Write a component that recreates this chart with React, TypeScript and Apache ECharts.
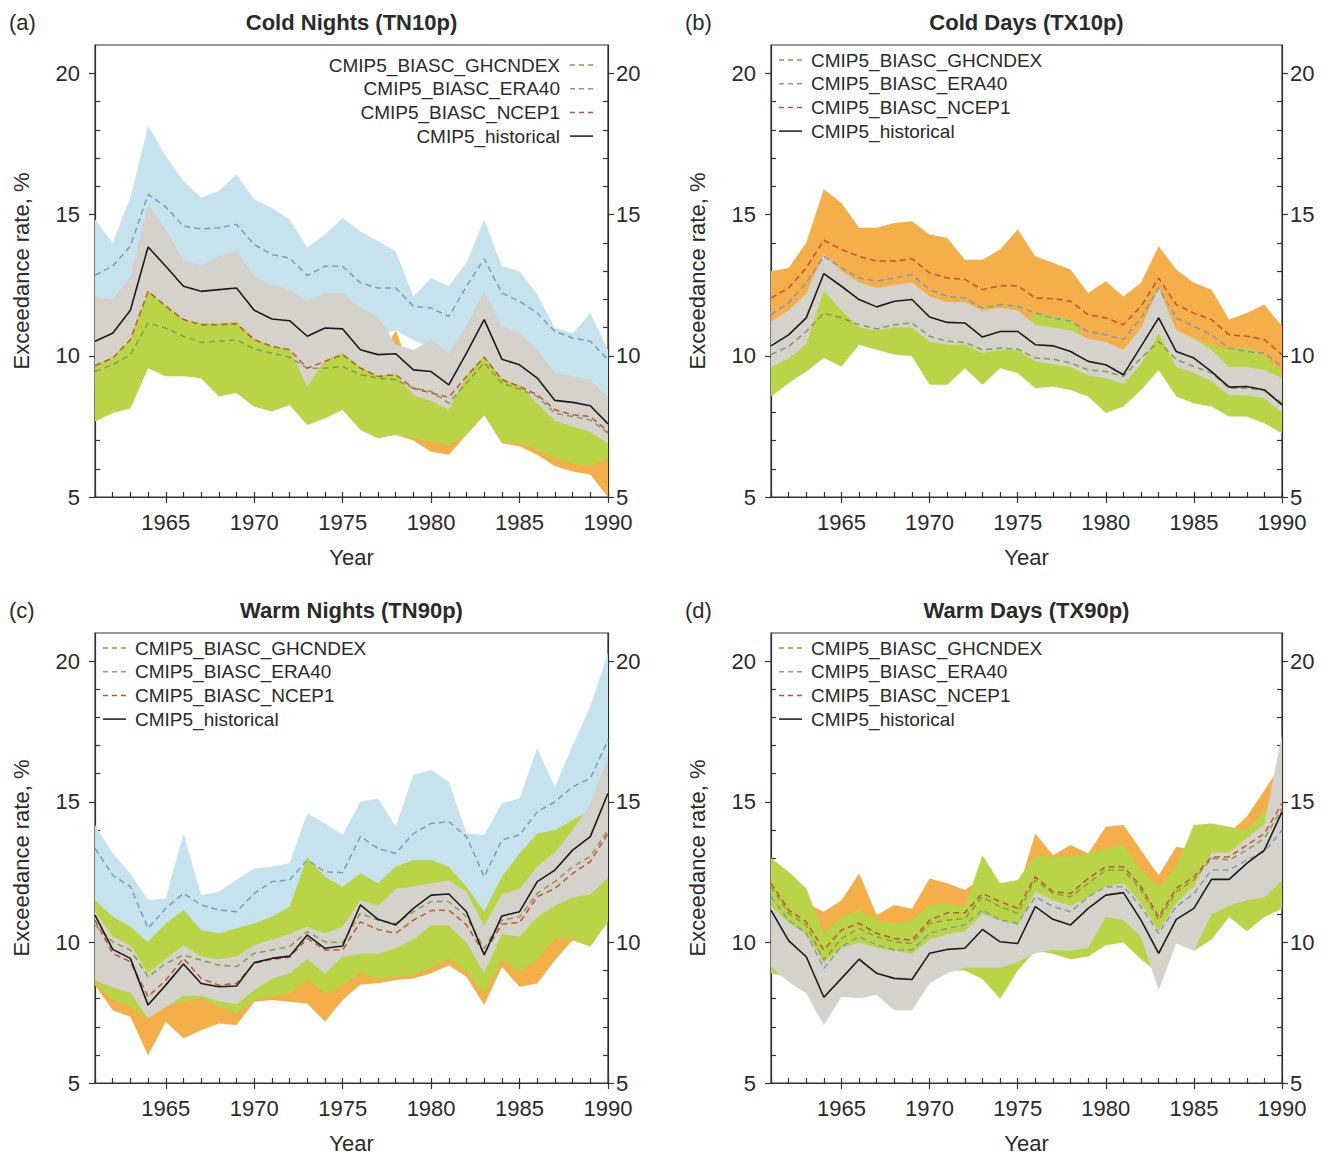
import React, { useEffect, useRef } from "react";
import * as echarts from "echarts";

const YEARS = [1961, 1962, 1963, 1964, 1965, 1966, 1967, 1968, 1969, 1970, 1971, 1972, 1973, 1974, 1975, 1976, 1977, 1978, 1979, 1980, 1981, 1982, 1983, 1984, 1985, 1986, 1987, 1988, 1989, 1990];
const X_MAJOR = [1965, 1970, 1975, 1980, 1985, 1990];
const Y_MAJOR = [5, 10, 15, 20];
const Y_MINOR = [6, 7, 8, 9, 11, 12, 13, 14, 16, 17, 18, 19];
const LEGEND_NAMES = ["CMIP5_BIASC_GHCNDEX", "CMIP5_BIASC_ERA40", "CMIP5_BIASC_NCEP1", "CMIP5_historical"];
const TITLES = ["Cold Nights (TN10p)", "Cold Days (TX10p)", "Warm Nights (TN90p)", "Warm Days (TX90p)"];
const LETTERS = ["(a)", "(b)", "(c)", "(d)"];

// ---- Panel (a) Cold Nights ----
const A_HIST = [10.51, 10.8, 11.61, 13.85, 13.17, 12.46, 12.28, 12.34, 12.4, 11.61, 11.3, 11.24, 10.69, 10.98, 10.95, 10.21, 10.04, 10.07, 9.5, 9.44, 8.97, 10.09, 11.28, 9.88, 9.68, 9.21, 8.42, 8.35, 8.23, 7.59];
const A_ERA40 = [12.85, 13.17, 13.88, 15.71, 15.27, 14.59, 14.49, 14.53, 14.65, 13.94, 13.58, 13.46, 12.84, 13.17, 13.17, 12.58, 12.4, 12.4, 11.75, 11.69, 11.39, 12.46, 13.43, 12.22, 11.93, 11.51, 10.86, 10.63, 10.51, 9.86];
const A_NCEP1 = [9.65, 9.92, 10.57, 12.28, 11.75, 11.28, 11.1, 11.1, 11.13, 10.57, 10.33, 10.21, 9.56, 9.8, 10.04, 9.56, 9.27, 9.33, 8.85, 8.68, 8.53, 9.27, 9.95, 9.15, 8.91, 8.62, 8.09, 7.91, 7.85, 7.32];
const A_GHCN = [9.44, 9.68, 10.04, 11.16, 10.98, 10.69, 10.47, 10.51, 10.57, 10.24, 10.09, 9.95, 9.56, 9.56, 9.62, 9.33, 9.21, 9.15, 8.85, 8.74, 8.32, 9.03, 9.76, 9.03, 8.82, 8.56, 7.97, 7.85, 7.73, 7.26];
const A_BLUE_HI = [14.82, 14.0, 15.6, 18.13, 17.07, 16.18, 15.59, 15.83, 16.42, 15.53, 15.24, 14.82, 13.82, 14.29, 14.88, 14.41, 14.05, 13.7, 12.1, 12.75, 12.46, 13.29, 14.82, 13.17, 12.99, 12.16, 10.98, 10.8, 11.51, 10.21];
const A_BLUE_LO = [11.0, 11.3, 12.0, 13.5, 13.2, 12.7, 12.5, 12.5, 12.6, 12.0, 11.7, 11.6, 11.0, 11.3, 11.3, 10.8, 10.7, 10.9, 10.55, 10.3, 9.6, 10.4, 11.4, 10.4, 10.2, 9.7, 9.1, 8.9, 8.7, 8.2];
const A_ORANGE_HI = [9.9, 10.1, 10.8, 12.45, 12.0, 11.5, 11.3, 11.4, 11.4, 10.8, 10.6, 10.5, 9.9, 10.1, 10.3, 9.9, 9.7, 10.9, 9.2, 9.0, 8.8, 9.5, 10.2, 9.5, 9.2, 8.9, 8.4, 8.2, 8.1, 7.5];
const A_ORANGE_LO = [7.8, 8.0, 8.2, 9.6, 9.3, 9.3, 9.2, 8.6, 8.7, 8.2, 8.05, 8.3, 7.6, 7.8, 8.1, 7.4, 7.1, 7.2, 7.0, 6.6, 6.5, 7.2, 7.9, 6.9, 6.8, 6.5, 6.1, 5.9, 5.8, 5.0];
const A_GREEN_HI = [10.0, 10.2, 10.9, 12.3, 12.0, 11.5, 11.3, 11.3, 11.3, 10.8, 10.6, 10.5, 9.8, 10.0, 10.2, 9.8, 9.5, 9.5, 9.0, 8.8, 8.6, 9.4, 10.0, 9.3, 9.1, 8.8, 8.3, 8.1, 8.0, 7.4];
const A_GREEN_LO = [7.67, 7.97, 8.14, 9.56, 9.27, 9.27, 9.21, 8.56, 8.68, 8.2, 8.03, 8.26, 7.55, 7.79, 8.09, 7.38, 7.08, 7.2, 7.08, 6.96, 6.84, 7.2, 7.91, 6.96, 6.9, 6.67, 6.37, 6.19, 6.1, 6.4];
const A_GRAY_HI = [12.1, 11.99, 12.81, 15.35, 14.47, 13.4, 13.17, 13.52, 13.7, 12.81, 12.52, 12.34, 11.93, 12.22, 12.22, 11.69, 11.39, 10.4, 10.2, 10.57, 10.09, 11.04, 12.28, 11.04, 10.8, 10.21, 9.39, 9.27, 9.15, 8.56];
const A_GRAY_LO = [9.7, 9.95, 10.6, 12.3, 11.8, 11.3, 11.15, 11.15, 11.2, 10.6, 10.35, 10.25, 8.9, 9.85, 10.1, 9.6, 9.3, 9.35, 8.6, 8.4, 8.1, 9.3, 10.0, 9.2, 8.95, 8.3, 7.7, 7.5, 7.3, 6.9];

// ---- Panel (b) Cold Days ----
const B_HIST = [10.35, 10.74, 11.34, 12.91, 12.46, 11.99, 11.73, 11.93, 11.99, 11.37, 11.18, 11.16, 10.66, 10.86, 10.86, 10.39, 10.35, 10.15, 9.8, 9.68, 9.33, 10.33, 11.34, 10.15, 9.92, 9.44, 8.89, 8.91, 8.79, 8.26];
const B_NCEP1 = [12.04, 12.4, 13.11, 14.09, 13.76, 13.52, 13.35, 13.35, 13.43, 12.93, 12.75, 12.7, 12.34, 12.48, 12.48, 12.04, 12.02, 11.93, 11.45, 11.34, 11.1, 11.75, 12.75, 11.81, 11.51, 11.28, 10.74, 10.69, 10.57, 10.04];
const B_ERA40 = [11.45, 11.87, 12.58, 13.52, 13.11, 12.75, 12.64, 12.75, 12.87, 12.34, 12.1, 12.04, 11.69, 11.81, 11.75, 11.51, 11.34, 11.22, 10.86, 10.74, 10.57, 11.34, 12.4, 11.34, 11.04, 10.74, 10.27, 10.15, 10.09, 9.62];
const B_GHCN = [10.04, 10.33, 10.86, 11.51, 11.34, 11.1, 10.95, 11.1, 11.16, 10.69, 10.51, 10.47, 10.21, 10.27, 10.24, 9.92, 9.88, 9.74, 9.5, 9.44, 9.27, 9.92, 10.51, 9.86, 9.62, 9.39, 8.85, 8.85, 8.79, 8.32];
const B_ORANGE_HI = [12.99, 13.11, 14.0, 15.89, 15.41, 14.53, 14.53, 14.7, 14.76, 14.29, 14.17, 13.4, 13.4, 13.76, 14.47, 13.52, 13.29, 13.05, 12.22, 12.64, 12.1, 12.58, 13.88, 13.05, 12.58, 12.34, 11.28, 11.51, 11.81, 11.04];
const B_ORANGE_LO = [11.1, 11.5, 12.1, 13.0, 12.7, 12.3, 12.2, 12.3, 12.3, 11.8, 11.6, 11.5, 11.2, 11.3, 11.2, 11.0, 10.9, 10.8, 10.5, 10.4, 10.2, 10.9, 11.9, 10.9, 10.6, 10.3, 9.8, 9.8, 9.7, 9.3];
const B_GREEN_HI = [10.9, 11.2, 11.6, 12.4, 12.0, 11.6, 11.5, 11.6, 11.6, 11.1, 11.0, 11.0, 10.8, 10.9, 10.9, 11.5, 11.4, 11.3, 10.5, 10.4, 10.0, 10.8, 11.6, 10.9, 10.6, 10.4, 10.2, 10.3, 10.0, 9.4];
const B_GREEN_LO = [8.56, 9.03, 9.44, 9.92, 9.62, 10.39, 10.21, 10.04, 9.98, 8.97, 8.97, 9.56, 8.97, 9.56, 9.39, 8.85, 8.91, 8.79, 8.56, 7.97, 8.2, 8.79, 9.5, 8.56, 8.32, 8.2, 7.85, 7.85, 7.61, 7.26];
const B_GRAY_HI = [11.2, 11.6, 12.2, 13.6, 13.0, 12.6, 12.4, 12.5, 12.6, 12.1, 11.9, 11.9, 11.6, 11.7, 11.6, 11.1, 11.0, 10.9, 10.6, 10.5, 10.2, 11.0, 12.4, 10.9, 10.6, 10.2, 9.6, 9.6, 9.5, 9.2];
const B_GRAY_LO = [9.6, 9.9, 10.4, 12.3, 11.6, 11.0, 10.9, 11.0, 11.0, 10.5, 10.4, 10.4, 10.1, 10.2, 10.2, 9.8, 9.7, 9.6, 9.3, 9.2, 9.0, 9.7, 10.8, 9.6, 9.4, 9.1, 8.6, 8.6, 8.5, 8.0];

// ---- Panel (c) Warm Nights ----
const C_HIST = [10.97, 9.75, 9.43, 7.77, 8.48, 9.23, 8.54, 8.42, 8.45, 9.28, 9.43, 9.51, 10.26, 9.79, 9.87, 11.33, 10.82, 10.62, 11.21, 11.68, 11.72, 11.09, 9.55, 10.94, 11.09, 12.16, 12.57, 13.28, 13.76, 15.3];
const C_ERA40 = [13.34, 12.39, 11.98, 10.5, 11.21, 11.74, 11.33, 11.15, 11.09, 11.74, 12.16, 12.22, 12.93, 12.51, 12.48, 13.76, 13.34, 13.16, 13.87, 14.23, 14.29, 13.76, 12.33, 13.64, 13.82, 14.64, 15.0, 15.53, 15.83, 17.19];
const C_GHCN = [10.62, 10.02, 9.73, 8.78, 9.25, 9.55, 9.37, 9.19, 9.14, 9.61, 9.73, 9.85, 10.38, 10.02, 9.99, 11.03, 10.79, 10.67, 11.09, 11.45, 11.45, 10.91, 9.79, 10.79, 10.91, 11.74, 12.16, 12.69, 13.05, 13.99];
const C_NCEP1 = [10.79, 9.61, 9.31, 8.07, 8.66, 9.43, 8.72, 8.48, 8.54, 9.25, 9.4, 9.47, 10.14, 9.73, 9.73, 10.73, 10.46, 10.32, 10.79, 11.13, 11.15, 10.62, 9.61, 10.65, 10.7, 11.62, 11.92, 12.45, 12.87, 13.87];
const C_BLUE_HI = [14.17, 13.16, 12.45, 11.5, 11.56, 13.87, 11.68, 11.8, 12.22, 12.63, 12.69, 12.81, 14.59, 14.23, 13.82, 15.0, 15.12, 14.11, 15.95, 16.13, 15.71, 13.87, 13.82, 14.94, 15.12, 16.9, 15.53, 17.0, 18.4, 20.3];
const C_BLUE_LO = [11.0, 10.5, 10.2, 9.3, 9.7, 10.0, 9.8, 9.7, 9.7, 10.1, 10.4, 10.5, 11.0, 10.8, 10.8, 11.6, 11.3, 11.2, 11.7, 12.0, 12.0, 11.6, 10.6, 11.6, 11.8, 12.5, 12.8, 13.3, 13.7, 15.0];
const C_ORANGE_HI = [11.2, 10.6, 10.3, 9.6, 10.2, 10.6, 10.1, 10.0, 10.1, 10.3, 10.5, 10.8, 11.5, 11.2, 11.2, 11.8, 11.7, 11.8, 12.0, 12.2, 12.2, 11.6, 10.5, 11.8, 12.0, 12.7, 13.1, 13.6, 14.0, 15.0];
const C_ORANGE_LO = [8.48, 7.59, 7.36, 5.99, 7.18, 6.59, 6.88, 7.12, 7.06, 7.89, 7.95, 7.89, 7.83, 7.18, 7.95, 8.5, 8.55, 8.66, 8.72, 8.9, 9.19, 8.78, 7.77, 9.13, 8.42, 8.54, 9.37, 10.08, 9.85, 10.73];
const C_GREEN_HI = [11.5, 10.91, 10.56, 10.02, 10.67, 11.15, 10.44, 10.32, 10.5, 10.67, 10.91, 11.27, 13.04, 12.33, 11.98, 12.45, 12.1, 12.69, 12.93, 12.93, 12.69, 11.98, 11.09, 12.33, 13.16, 13.87, 13.99, 14.35, 14.7, 15.18];
const C_GREEN_LO = [8.54, 7.95, 7.71, 7.3, 7.71, 7.89, 8.01, 7.71, 7.48, 7.95, 8.07, 8.19, 8.66, 8.19, 8.48, 8.9, 8.72, 8.78, 8.84, 9.08, 9.43, 8.96, 8.19, 9.37, 8.96, 9.37, 10.14, 10.14, 9.85, 10.79];
const C_GRAY_HI = [11.1, 10.2, 9.9, 8.9, 9.4, 9.9, 9.5, 9.4, 9.5, 9.9, 10.1, 10.3, 10.56, 10.32, 10.56, 11.5, 11.3, 11.9, 12.0, 12.1, 12.2, 11.8, 10.6, 11.7, 11.9, 12.7, 13.2, 14.0, 14.9, 16.6];
const C_GRAY_LO = [8.66, 8.4, 8.2, 7.3, 7.7, 8.1, 8.1, 7.9, 7.8, 8.3, 8.7, 8.9, 9.4, 8.9, 9.5, 9.6, 9.6, 9.8, 10.1, 10.6, 10.6, 10.0, 8.9, 10.3, 10.2, 10.9, 11.3, 11.6, 11.7, 12.3];

// ---- Panel (d) Warm Days ----
const D_HIST = [11.15, 10.06, 9.49, 8.05, 8.72, 9.4, 8.9, 8.72, 8.68, 9.61, 9.75, 9.79, 10.46, 10.02, 9.96, 11.27, 10.82, 10.62, 11.21, 11.68, 11.77, 10.79, 9.61, 10.82, 11.21, 12.24, 12.24, 12.81, 13.28, 14.64];
const D_NCEP1 = [12.1, 11.15, 10.73, 9.73, 10.44, 10.68, 10.32, 10.14, 10.08, 10.79, 11.05, 11.05, 11.74, 11.45, 11.21, 12.33, 11.8, 11.74, 12.27, 12.69, 12.69, 11.98, 10.91, 11.92, 12.33, 13.04, 13.04, 13.46, 13.87, 14.94];
const D_GHCN = [11.98, 11.03, 10.62, 9.37, 10.14, 10.5, 10.2, 10.02, 9.96, 10.68, 10.79, 10.85, 11.62, 11.27, 11.03, 12.22, 11.74, 11.62, 12.1, 12.57, 12.57, 11.86, 10.79, 11.8, 12.22, 12.99, 12.93, 13.28, 13.7, 14.76];
const D_ERA40 = [11.62, 10.79, 10.32, 9.08, 9.85, 10.2, 9.91, 9.73, 9.73, 10.32, 10.5, 10.62, 11.15, 10.79, 10.68, 11.62, 11.27, 11.09, 11.62, 11.98, 11.98, 11.27, 10.32, 11.27, 11.74, 12.57, 12.57, 12.93, 13.22, 13.99];
const D_ORANGE_HI = [12.6, 12.1, 11.4, 11.09, 11.5, 12.45, 10.97, 11.33, 11.2, 12.27, 12.1, 11.86, 12.3, 11.8, 11.8, 13.87, 13.1, 13.46, 13.16, 14.11, 14.17, 13.28, 12.39, 13.4, 13.3, 13.8, 13.9, 14.47, 15.41, 16.36];
const D_ORANGE_LO = [10.8, 10.0, 9.6, 8.5, 9.1, 9.5, 9.2, 9.0, 9.0, 9.6, 9.8, 9.9, 10.4, 10.0, 10.0, 10.9, 10.6, 10.4, 10.9, 11.3, 11.3, 10.6, 9.6, 10.6, 11.1, 11.9, 11.9, 12.3, 12.6, 13.4];
const D_GREEN_HI = [12.99, 12.51, 11.92, 10.32, 10.91, 11.15, 10.79, 10.67, 10.79, 11.33, 11.39, 11.27, 13.1, 12.1, 12.22, 13.1, 13.05, 13.05, 13.16, 13.34, 13.46, 12.57, 11.98, 12.69, 14.17, 14.23, 14.11, 13.99, 14.7, 15.53];
const D_GREEN_LO = [8.9, 8.8, 8.7, 8.0, 8.4, 8.8, 8.5, 8.4, 8.4, 8.9, 9.0, 9.0, 8.7, 8.0, 9.0, 9.7, 9.6, 9.4, 9.5, 9.9, 10.0, 9.4, 8.9, 10.2, 9.7, 10.1, 10.9, 10.4, 10.9, 11.2];
const D_GRAY_HI = [11.3, 10.7, 10.3, 9.3, 9.8, 10.0, 9.8, 9.7, 9.6, 10.1, 10.3, 10.4, 11.0, 10.8, 10.6, 11.8, 11.5, 11.3, 11.6, 12.0, 12.1, 11.4, 10.4, 11.4, 12.0, 13.2, 13.2, 13.7, 14.2, 17.4];
const D_GRAY_LO = [9.13, 8.6, 8.19, 7.06, 8.07, 8.01, 8.13, 7.59, 7.59, 8.54, 8.9, 9.1, 9.1, 9.1, 9.3, 9.61, 9.73, 9.7, 9.8, 10.9, 10.8, 10.2, 8.31, 9.96, 9.7, 11.0, 11.3, 11.5, 11.6, 12.2];

const FONT = '"Liberation Sans", Arial, Helvetica, sans-serif';
const AXIS_COLOR = "#333";
const TEXT_COLOR = "#2a2a2a";
const BLUE = "#c5e2ed";
const ORANGE = "#f4ae4a";
const GREEN = "#b9d547";
const GRAY = "#d4d2cb";
const LINE_COLORS = ["#8a9a4f", "#7f9bb2", "#bf5536", "#1a1a1a"];

type Band = { lo: number[]; hi: number[]; color: string };
type Panel = {
  left: number; top: number; width: number; height: number;
  legend: "right" | "left";
  bands: Band[];
  lines: number[][]; // GHCN, ERA40, NCEP1, HIST
};

const PANELS: Panel[] = [
  {
    left: 95, top: 45, width: 513, height: 452, legend: "right",
    bands: [
      { lo: A_BLUE_LO, hi: A_BLUE_HI, color: BLUE },
      { lo: A_ORANGE_LO, hi: A_ORANGE_HI, color: ORANGE },
      { lo: A_GREEN_LO, hi: A_GREEN_HI, color: GREEN },
      { lo: A_GRAY_LO, hi: A_GRAY_HI, color: GRAY },
    ],
    lines: [A_GHCN, A_ERA40, A_NCEP1, A_HIST],
  },
  {
    left: 771, top: 45, width: 511, height: 452, legend: "left",
    bands: [
      { lo: B_ORANGE_LO, hi: B_ORANGE_HI, color: ORANGE },
      { lo: B_GREEN_LO, hi: B_GREEN_HI, color: GREEN },
      { lo: B_GRAY_LO, hi: B_GRAY_HI, color: GRAY },
    ],
    lines: [B_GHCN, B_ERA40, B_NCEP1, B_HIST],
  },
  {
    left: 95, top: 633, width: 513, height: 450, legend: "left",
    bands: [
      { lo: C_BLUE_LO, hi: C_BLUE_HI, color: BLUE },
      { lo: C_ORANGE_LO, hi: C_ORANGE_HI, color: ORANGE },
      { lo: C_GREEN_LO, hi: C_GREEN_HI, color: GREEN },
      { lo: C_GRAY_LO, hi: C_GRAY_HI, color: GRAY },
    ],
    lines: [C_GHCN, C_ERA40, C_NCEP1, C_HIST],
  },
  {
    left: 771, top: 633, width: 511, height: 450, legend: "left",
    bands: [
      { lo: D_ORANGE_LO, hi: D_ORANGE_HI, color: ORANGE },
      { lo: D_GREEN_LO, hi: D_GREEN_HI, color: GREEN },
      { lo: D_GRAY_LO, hi: D_GRAY_HI, color: GRAY },
    ],
    lines: [D_GHCN, D_ERA40, D_NCEP1, D_HIST],
  },
];

const plain = (v: number) => String(v);

function buildOption() {
  const grid: any[] = [];
  const xAxis: any[] = [];
  const yAxis: any[] = [];
  const series: any[] = [];
  const graphic: any[] = [];
  const lineStyle = { color: AXIS_COLOR, width: 1.2 };

  PANELS.forEach((p, pi) => {
    grid.push({
      left: p.left, top: p.top, width: p.width, height: p.height,
      show: true, borderColor: AXIS_COLOR, borderWidth: 1.2, backgroundColor: "rgba(0,0,0,0)",
    });
    xAxis.push({
      type: "value", gridIndex: pi, position: "bottom", min: 1961, max: 1990,
      axisLine: { show: true, onZero: false, lineStyle },
      axisTick: { show: true, inside: true, length: 5, customValues: YEARS, lineStyle },
      axisLabel: { show: false }, splitLine: { show: false },
    });
    xAxis.push({
      type: "value", gridIndex: pi, position: "bottom", min: 1961, max: 1990,
      axisLine: { show: false, onZero: false },
      axisTick: { show: true, inside: false, length: 6, customValues: X_MAJOR, lineStyle },
      axisLabel: { show: true, customValues: X_MAJOR, formatter: plain, fontSize: 22, margin: 14, color: TEXT_COLOR, fontFamily: FONT },
      splitLine: { show: false },
      name: "Year", nameLocation: "middle", nameGap: 49,
      nameTextStyle: { fontSize: 22, color: TEXT_COLOR, fontFamily: FONT },
    });
    (["left", "right"] as const).forEach((side) => {
      yAxis.push({
        type: "value", gridIndex: pi, position: side, min: 5, max: 21,
        axisLine: { show: true, onZero: false, lineStyle },
        axisTick: { show: true, inside: true, length: 5, customValues: Y_MINOR, lineStyle },
        axisLabel: { show: false }, splitLine: { show: false },
      });
      const ax: any = {
        type: "value", gridIndex: pi, position: side, min: 5, max: 21,
        axisLine: { show: false, onZero: false },
        axisTick: { show: true, inside: false, length: 6, customValues: Y_MAJOR, lineStyle },
        axisLabel: { show: true, customValues: Y_MAJOR, formatter: plain, fontSize: 22, margin: side === "left" ? 15 : 8, color: TEXT_COLOR, fontFamily: FONT },
        splitLine: { show: false },
      };
      if (side === "left") {
        ax.name = "Exceedance rate, %";
        ax.nameLocation = "middle";
        ax.nameGap = 63;
        ax.nameTextStyle = { fontSize: 22, color: TEXT_COLOR, fontFamily: FONT };
      }
      yAxis.push(ax);
    });

    const xi = 2 * pi;
    const yi = 4 * pi;
    p.bands.forEach((b) => {
      series.push({
        type: "custom", xAxisIndex: xi, yAxisIndex: yi, silent: true, clip: true,
        data: YEARS.map((y, i) => [y, b.lo[i], b.hi[i]]),
        encode: { x: 0, y: [1, 2] },
        renderItem: (params: any, api: any) => {
          if (params.dataIndex !== 0) return null;
          const pts: number[][] = [];
          for (let i = 0; i < YEARS.length; i++) pts.push(api.coord([YEARS[i], b.hi[i]]));
          for (let i = YEARS.length - 1; i >= 0; i--) pts.push(api.coord([YEARS[i], b.lo[i]]));
          return { type: "polygon", shape: { points: pts }, style: { fill: b.color, stroke: "none" } };
        },
      });
    });
    p.lines.forEach((arr, li) => {
      series.push({
        type: "line", xAxisIndex: xi, yAxisIndex: yi, silent: true,
        name: LEGEND_NAMES[li],
        data: YEARS.map((y, i) => [y, arr[i]]),
        symbol: "none",
        lineStyle: { color: LINE_COLORS[li], width: li === 3 ? 1.6 : 1.5, type: li === 3 ? "solid" : [6, 4] },
        z: 5,
      });
    });

    const cx = p.left + p.width / 2;
    const ty = p.top - 23;
    graphic.push({
      type: "text", x: cx, y: ty, z: 10,
      style: { text: TITLES[pi], fontSize: 22, fontWeight: "bold", fontFamily: FONT, fill: TEXT_COLOR, align: "center", verticalAlign: "middle" },
    });
    graphic.push({
      type: "text", x: p.left - 86, y: ty, z: 10,
      style: { text: LETTERS[pi], fontSize: 22, fontFamily: FONT, fill: TEXT_COLOR, align: "left", verticalAlign: "middle" },
    });

    const rowGap = 23.7;
    LEGEND_NAMES.forEach((name, li) => {
      const dash = li === 3 ? null : [5, 4];
      if (p.legend === "right") {
        const ry = p.top + 20 + li * rowGap;
        const tx = p.left + 465;
        graphic.push({
          type: "text", x: tx, y: ry, z: 10,
          style: { text: name, fontSize: 19, fontFamily: FONT, fill: TEXT_COLOR, align: "right", verticalAlign: "middle" },
        });
        graphic.push({
          type: "line", z: 10,
          shape: { x1: tx + 10, y1: ry, x2: tx + 33, y2: ry },
          style: { stroke: LINE_COLORS[li], lineWidth: 1.5, lineDash: dash },
        });
      } else {
        const ry = p.top + 15 + li * rowGap;
        const lx = p.left + 8;
        graphic.push({
          type: "line", z: 10,
          shape: { x1: lx, y1: ry, x2: lx + 23, y2: ry },
          style: { stroke: LINE_COLORS[li], lineWidth: 1.5, lineDash: dash },
        });
        graphic.push({
          type: "text", x: lx + 32, y: ry, z: 10,
          style: { text: name, fontSize: 19, fontFamily: FONT, fill: TEXT_COLOR, align: "left", verticalAlign: "middle" },
        });
      }
    });
  });

  return {
    animation: false,
    backgroundColor: "#ffffff",
    textStyle: { fontFamily: FONT },
    grid, xAxis, yAxis, series, graphic,
  };
}

export default function App() {
  const ref = useRef<HTMLDivElement>(null);
  useEffect(() => {
    document.body.style.margin = "0";
    if (!ref.current) return;
    const chart = echarts.init(ref.current, undefined, { renderer: "svg" });
    chart.setOption(buildOption() as any);
    return () => chart.dispose();
  }, []);
  return <div ref={ref} style={{ width: 1330, height: 1157 }} />;
}
